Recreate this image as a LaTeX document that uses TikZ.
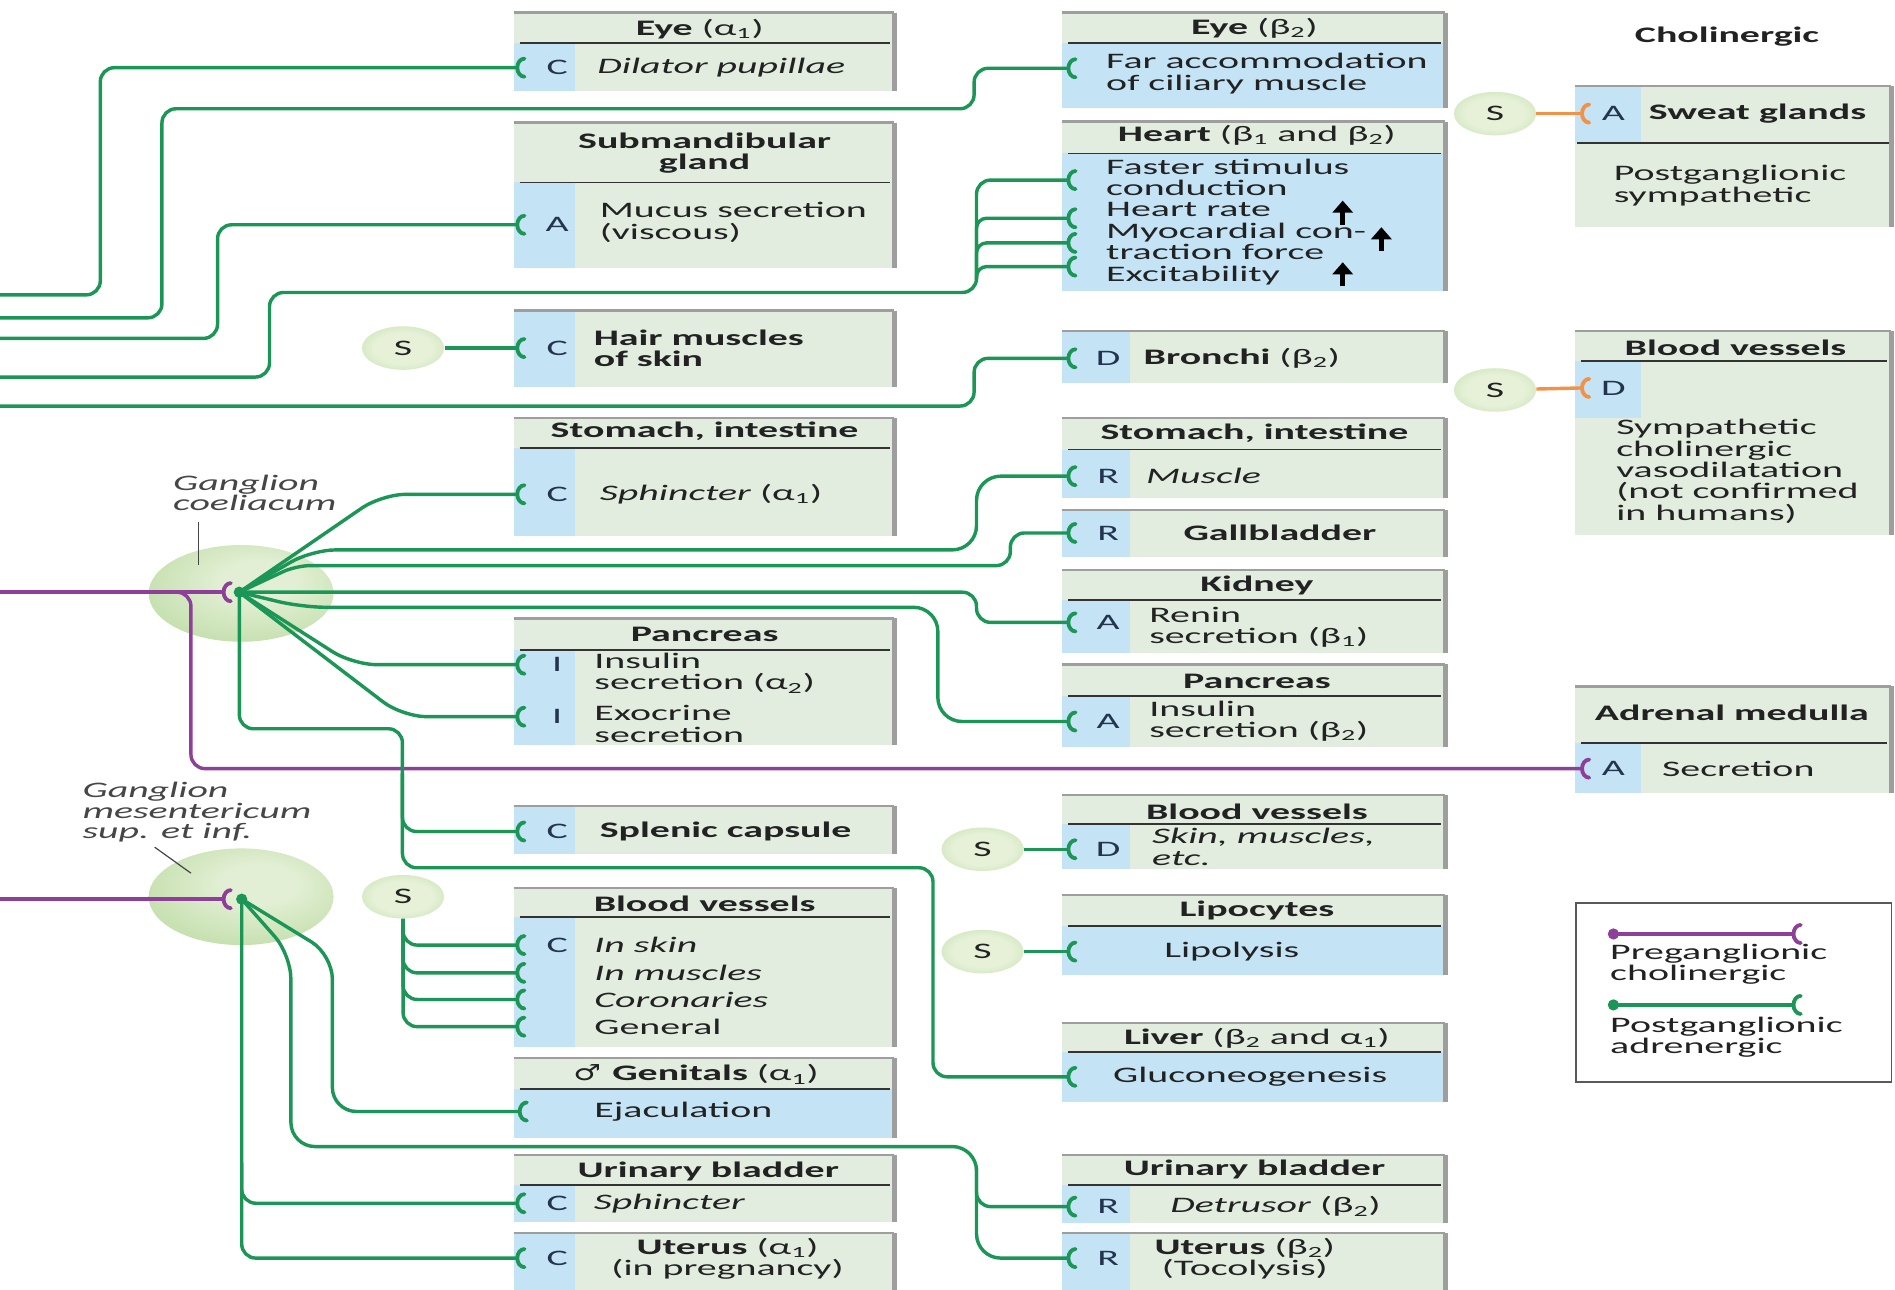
\documentclass[tikz,border=0pt]{standalone}
\usepackage{fontspec}
\setmainfont{Carlito}[FakeStretch=1.8]
\newfontfamily\signfont{DejaVu Sans}[FakeStretch=1.4]
\usetikzlibrary{shapes.geometric,arrows.meta}

\definecolor{nervegreen}{RGB}{28,150,86}
\definecolor{preganglionic}{RGB}{142,64,152}
\definecolor{cholinergic}{RGB}{242,146,70}
\definecolor{organbg}{RGB}{226,237,224}
\definecolor{receptorbg}{RGB}{196,228,246}
\definecolor{rimgray}{RGB}{158,158,158}
\definecolor{ink}{RGB}{34,34,34}
\definecolor{tagink}{RGB}{36,52,80}
\definecolor{labelink}{RGB}{70,70,70}
\definecolor{gcore}{RGB}{226,239,212}
\definecolor{gmid}{RGB}{192,221,168}
\definecolor{gedge}{RGB}{158,199,128}
\definecolor{score}{RGB}{230,241,216}
\definecolor{smid}{RGB}{196,223,172}
\definecolor{sedge}{RGB}{160,200,130}

\pgfdeclareradialshading{ganglionshade}{\pgfpoint{6bp}{8bp}}{color(0bp)=(gcore); color(10bp)=(gcore); color(34bp)=(gmid); color(46bp)=(gedge); color(60bp)=(gedge)}
\pgfdeclareradialshading{somashade}{\pgfpoint{0bp}{0bp}}{color(0bp)=(score); color(18bp)=(score); color(36bp)=(smid); color(46bp)=(sedge); color(60bp)=(sedge)}

% organ panels: background, receptor strip, grey rim, header rule
\newcommand\orgpanel[4]{\fill[organbg] (#1,#2) rectangle (#3,#4);}
\newcommand\orgstrip[4]{\fill[receptorbg] (#1,#2) rectangle (#3,#4);}
\newcommand\orgrim[4]{\draw[rimtop] (#1,#2) -- (#3,#2); \draw[rimside] (#3,#2) -- (#3,#4);}
\newcommand\orgsep[3]{\draw[sepline] (#1,#3) -- (#2,#3);}
% synaptic ending: a small arc opening to the right
\newcommand\synapse[2]{\draw[#1, synstroke] (#2) ++(6,-7.5) arc[start angle=90, end angle=270, x radius=3.6pt, y radius=4.5pt];}

\begin{document}
\begin{tikzpicture}[x=0.6pt, y=-0.6pt,
  nerve/.style={draw=nervegreen, line width=1.7pt, rounded corners=7pt},
  fan/.style={nerve, rounded corners=12pt},
  branch/.style={nerve, rounded corners=5pt},
  pre/.style={draw=preganglionic, line width=1.7pt, rounded corners=7pt},
  chol/.style={draw=cholinergic, line width=1.7pt},
  synstroke/.style={line width=1.9pt, line cap=round},
  rimtop/.style={draw=rimgray, line width=1.2pt},
  rimside/.style={draw=rimgray, line width=2.2pt},
  sepline/.style={draw=black!80, line width=0.9pt},
  txt/.style={inner sep=0pt, text=ink, font=\fontsize{11}{10.6}\selectfont, align=left, anchor=west},
  hdr/.style={inner sep=0pt, text=ink, font=\fontsize{11}{10.6}\selectfont, align=center},
  rtag/.style={inner sep=0pt, text=tagink, font=\fontsize{11}{10.6}\selectfont},
  lbl/.style={inner sep=0pt, text=labelink, font=\fontsize{11}{10}\selectfont\itshape, align=left, anchor=west},
  soma/.style={ellipse, inner sep=0pt, minimum width=40.8pt, minimum height=21.6pt, shade, shading=somashade, text=ink, font=\fontsize{11}{11}\selectfont},
  leader/.style={draw=labelink, line width=0.6pt},
  upmark/.style={draw=black, line width=2.4pt, -{Triangle[length=6pt, width=10pt]}},
]
\useasboundingbox (0,0) rectangle (1568,1067);
\fill[white] (0,0) rectangle (1568,1067);

% ---------- ganglia ----------
\shade[shading=ganglionshade] (199.5,491) ellipse [x radius=45.9pt, y radius=24pt];
\shade[shading=ganglionshade] (199.5,742) ellipse [x radius=45.9pt, y radius=24pt];
\draw[leader] (164.5,432) -- (164.5,467.5);
\draw[leader] (128,701) -- (158,722.5);
\node[lbl] (labCoel) at (143,408) {Ganglion\\coeliacum};
\node[lbl] (labMes) at (68,672) {Ganglion\\mesentericum\\sup. et inf.};

% ---------- organ panels, left column ----------
\orgpanel{425}{10.5}{740}{75}\orgstrip{425}{35.5}{476}{75}\orgrim{425}{10.5}{740}{75}\orgsep{430}{736}{35.5}
\orgpanel{425}{101.5}{740}{222}\orgstrip{425}{151}{476}{222}\orgrim{425}{101.5}{740}{222}\orgsep{430}{736}{151}
\orgpanel{425}{257}{740}{320}\orgstrip{425}{257}{476}{320}\orgrim{425}{257}{740}{320}
\orgpanel{425}{346}{740}{443.5}\orgstrip{425}{371}{476}{443.5}\orgrim{425}{346}{740}{443.5}\orgsep{430}{736}{371}
\orgpanel{425}{511.6}{740}{616.5}\orgstrip{425}{537.5}{476}{616.5}\orgrim{425}{511.6}{740}{616.5}\orgsep{430}{736}{537.5}
\orgpanel{425}{667}{740}{707}\orgstrip{425}{667}{476}{707}\orgrim{425}{667}{740}{707}
\orgpanel{425}{735}{740}{866}\orgstrip{425}{759}{476}{866}\orgrim{425}{735}{740}{866}\orgsep{430}{736}{759}
\orgpanel{425}{875.6}{740}{941.8}\orgstrip{425}{901.3}{740}{941.8}\orgrim{425}{875.6}{740}{941.8}\orgsep{430}{736}{901.3}
\orgpanel{425}{955.6}{740}{1010.8}\orgstrip{425}{980.4}{476}{1010.8}\orgrim{425}{955.6}{740}{1010.8}\orgsep{430}{736}{980.4}
\orgpanel{425}{1020.4}{740}{1075}\orgstrip{425}{1020.4}{476}{1075}\orgrim{425}{1020.4}{740}{1075}

% ---------- organ panels, middle column ----------
\orgpanel{879}{10.5}{1196}{89.6}\orgstrip{879}{35.3}{1196}{89.6}\orgrim{879}{10.5}{1196}{89.6}\orgsep{884}{1192}{35.3}
\orgpanel{879}{100.7}{1196}{241}\orgstrip{879}{127}{1196}{241}\orgrim{879}{100.7}{1196}{241}\orgsep{884}{1192}{127}
\orgpanel{879}{274}{1196}{317}\orgstrip{879}{274}{935}{317}\orgrim{879}{274}{1196}{317}
\orgpanel{879}{346}{1196}{412}\orgstrip{879}{372}{935}{412}\orgrim{879}{346}{1196}{412}\orgsep{884}{1192}{372}
\orgpanel{879}{422}{1196}{460.6}\orgstrip{879}{422}{935}{460.6}\orgrim{879}{422}{1196}{460.6}
\orgpanel{879}{471.6}{1196}{540.6}\orgstrip{879}{496.5}{935}{540.6}\orgrim{879}{471.6}{1196}{540.6}\orgsep{884}{1192}{496.5}
\orgpanel{879}{549.7}{1196}{617.8}\orgstrip{879}{575.6}{935}{617.8}\orgrim{879}{549.7}{1196}{617.8}\orgsep{884}{1192}{575.6}
\orgpanel{879}{657.8}{1196}{719.3}\orgstrip{879}{682}{935}{719.3}\orgrim{879}{657.8}{1196}{719.3}\orgsep{884}{1192}{682}
\orgpanel{879}{740.5}{1196}{806.7}\orgstrip{879}{766}{1196}{806.7}\orgrim{879}{740.5}{1196}{806.7}\orgsep{884}{1192}{766}
\orgpanel{879}{846.7}{1196}{911.5}\orgstrip{879}{870.7}{1196}{911.5}\orgrim{879}{846.7}{1196}{911.5}\orgsep{884}{1192}{870.7}
\orgpanel{879}{955.6}{1196}{1012}\orgstrip{879}{980.4}{935}{1012}\orgrim{879}{955.6}{1196}{1012}\orgsep{884}{1192}{980.4}
\orgpanel{879}{1020.4}{1196}{1075}\orgstrip{879}{1020.4}{935}{1075}\orgrim{879}{1020.4}{1196}{1075}

% ---------- organ panels, cholinergic column ----------
\orgpanel{1303}{71}{1565}{187.5}\orgstrip{1303}{71}{1358}{118.6}\orgrim{1303}{71}{1565}{187.5}\orgsep{1305}{1563}{118.6}
\orgpanel{1303}{274}{1565}{442.7}\orgstrip{1303}{299}{1358}{346}\orgrim{1303}{274}{1565}{442.7}\orgsep{1308}{1561}{299}
\orgpanel{1303}{568}{1565}{656.4}\orgstrip{1303}{615}{1358}{656.4}\orgrim{1303}{568}{1565}{656.4}\orgsep{1308}{1561}{615}

% ---------- legend frame ----------
\draw[draw=black!65, line width=0.9pt] (1304,747.4) rectangle (1565,895);

% ---------- synapse positions ----------
\coordinate (sEyeA) at (428,56);
\coordinate (sSubm) at (428,186);
\coordinate (sHair) at (428,288);
\coordinate (sSphA) at (428,409);
\coordinate (sInsA) at (428,550);
\coordinate (sExoA) at (428,593);
\coordinate (sSplen) at (428,688);
\coordinate (sBv1) at (428,782);
\coordinate (sBv2) at (428,805);
\coordinate (sBv3) at (428,827);
\coordinate (sBv4) at (428,849.5);
\coordinate (sGen) at (430,919.7);
\coordinate (sUbA) at (428,995.6);
\coordinate (sUtA) at (428,1041);
\coordinate (sEyeB) at (884,56.5);
\coordinate (sH1) at (884,149);
\coordinate (sH2) at (884,180.6);
\coordinate (sH3) at (884,201);
\coordinate (sH4) at (884,220.6);
\coordinate (sBron) at (884,296.5);
\coordinate (sMusc) at (884,394);
\coordinate (sGall) at (884,441);
\coordinate (sKid) at (884,515);
\coordinate (sPanB) at (884,597);
\coordinate (sBvB) at (884,702.7);
\coordinate (sLipo) at (884,787.4);
\coordinate (sLiver) at (884,891);
\coordinate (sDetr) at (884,998.4);
\coordinate (sUtB) at (884,1041);
\coordinate (sSweat) at (1309,94);
\coordinate (sBvC) at (1309,321);
\coordinate (sAdr) at (1309,636);
% fibres entering from the spinal cord side
\coordinate (in1) at (0,244);
\coordinate (in2) at (0,263);
\coordinate (in3) at (0,280);
\coordinate (in4) at (0,312);
\coordinate (in5) at (0,336);
\coordinate (inC) at (0,490);
\coordinate (inM) at (0,744);
% ganglionic relay points
\coordinate (gcIn) at (185,490);
\coordinate (gcOut) at (198,490);
\coordinate (gmIn) at (185,744);
\coordinate (gmOut) at (200,744);
% branch points
\coordinate (hJoin) at (808,231);
\coordinate (spJoin) at (333,640);
\coordinate (ubJoin) at (808,966);
\coordinate (uaJoin) at (200,962);

% ---------- sympathetic somata ----------
\node[soma] (soHair) at (333.5,288) {S};
\node[soma] (soSweat) at (1237,94) {S};
\node[soma] (soBvC) at (1237,322.7) {S};
\node[soma] (soBvB) at (813,702.7) {S};
\node[soma] (soLipo) at (813,787.4) {S};
\node[soma] (soBvA) at (333.5,742) {S};

% ---------- preganglionic fibres ----------
\draw[pre] (inC) -- (gcIn);
\draw[pre] (inC) -- (158,490) -- (158,636) -- (sAdr);
\draw[pre] (inM) -- (gmIn);

% ---------- postganglionic fibres from the upper trunk ----------
\draw[nerve] (in1) -- (83,244) -- (83,56) -- (sEyeA);
\draw[nerve] (in2) -- (134,263) -- (134,90) -- (806,90) -- (806,56.5) -- (sEyeB);
\draw[nerve] (in3) -- (180,280) -- (180,186) -- (sSubm);
\draw[nerve] (in4) -- (223,312) -- (223,242) -- (808,242) -- (808,149) -- (sH1);
\draw[branch] (hJoin) |- (sH2);
\draw[branch] (hJoin) |- (sH3);
\draw[branch] (hJoin) |- (sH4);
\draw[nerve] (in5) -- (806,336) -- (806,296.5) -- (sBron);

% ---------- fibres from the coeliac ganglion ----------
\draw[fan] (gcOut) -- (316,409) -- (sSphA);
\draw[fan] (gcOut) -- (258,455) -- (808,455) -- (808,394) -- (sMusc);
\draw[nerve] (gcOut) -- (245,468) -- (836,468) -- (836,441) -- (sGall);
\draw[nerve] (gcOut) -- (808,490) -- (808,515) -- (sKid);
\draw[fan] (gcOut) -- (250,502.5) -- (776,502.5) -- (776,597) -- (sPanB);
\draw[fan] (gcOut) -- (292,550) -- (sInsA);
\draw[fan] (gcOut) -- (333,593) -- (sExoA);
\draw[nerve] (gcOut) -- (198,603) -- (333,603) -- (333,718) -- (772,718) -- (772,891) -- (sLiver);
\draw[nerve] (spJoin) |- (sSplen);

% ---------- fibres from the mesenteric ganglia ----------
\draw[fan] (gmOut) -- (275,790) -- (275,919.7) -- (sGen);
\draw[fan] (gmOut) -- (240.7,790) -- (240.7,948.7) -- (808,948.7) -- (808,1041) -- (sUtB);
\draw[nerve] (ubJoin) |- (sDetr);
\draw[nerve] (gmOut) -- (200,1041) -- (sUtA);
\draw[nerve] (uaJoin) |- (sUbA);

% ---------- fibres from single somata ----------
\draw[nerve] (soHair) -- (sHair);
\draw[nerve] (soBvB) -- (sBvB);
\draw[nerve] (soLipo) -- (sLipo);
\draw[nerve] (soBvA.south) |- (sBv1);
\draw[nerve] (soBvA.south) |- (sBv2);
\draw[nerve] (soBvA.south) |- (sBv3);
\draw[nerve] (soBvA.south) |- (sBv4);
\draw[chol] (soSweat) -- (sSweat);
\draw[chol] (soBvC) -- (sBvC);

% ---------- synaptic endings ----------
\foreach \s in {sEyeA,sSubm,sHair,sSphA,sInsA,sExoA,sSplen,sBv1,sBv2,sBv3,sBv4,sGen,sUbA,sUtA,
                sEyeB,sH1,sH2,sH3,sH4,sBron,sMusc,sGall,sKid,sPanB,sBvB,sLipo,sLiver,sDetr,sUtB}
  {\synapse{nervegreen}{\s}}
\synapse{cholinergic}{sSweat}
\synapse{cholinergic}{sBvC}
\synapse{preganglionic}{sAdr}
\synapse{preganglionic}{gcIn}
\synapse{preganglionic}{gmIn}
\fill[nervegreen] (gcOut) circle (2.8pt);
\fill[nervegreen] (gmOut) circle (2.8pt);

% ---------- left column texts ----------
\node[hdr] (hEyeA) at (579,24) {\textbf{Eye} (α\textsubscript{1})};
\node[rtag] (gEyeA) at (461,56) {C};
\node[txt] (tEyeA) at (494,56) {\textit{Dilator pupillae}};
\node[hdr] (hSubm) at (583,126.5) {\textbf{Submandibular}\\\textbf{gland}};
\node[rtag] (gSubm) at (461,186) {A};
\node[txt] (tSubm) at (496,184) {Mucus secretion\\(viscous)};
\node[rtag] (gHair) at (461,288) {C};
\node[txt] (tHair) at (491,288) {\textbf{Hair muscles}\\\textbf{of skin}};
\node[hdr] (hStoA) at (583,357) {\textbf{Stomach, intestine}};
\node[rtag] (gSphA) at (461,409) {C};
\node[txt] (tSphA) at (496,409) {\textit{Sphincter} (α\textsubscript{1})};
\node[hdr] (hPanA) at (583,525) {\textbf{Pancreas}};
\node[rtag] (gInsA) at (461,550) {I};
\node[txt] (tInsA) at (491.5,557) {Insulin\\secretion (α\textsubscript{2})};
\node[rtag] (gExoA) at (461,593) {I};
\node[txt] (tExoA) at (491.5,599) {Exocrine\\secretion};
\node[rtag] (gSplen) at (461,688) {C};
\node[txt] (tSplen) at (496,688) {\textbf{Splenic capsule}};
\node[hdr] (hBvA) at (583,748) {\textbf{Blood vessels}};
\node[rtag] (gBvA) at (461,782) {C};
\node[txt] (tBv1) at (491.5,782) {\textit{In skin}};
\node[txt] (tBv2) at (491.5,805) {\textit{In muscles}};
\node[txt] (tBv3) at (491.5,827) {\textit{Coronaries}};
\node[txt] (tBv4) at (491.5,849.5) {General};
\node[hdr] (hGen) at (576,889) {{\signfont ♂}\enspace\textbf{Genitals} (α\textsubscript{1})};
\node[txt] (tGen) at (491.5,919.7) {Ejaculation};
\node[hdr] (hUbA) at (586,969.4) {\textbf{Urinary bladder}};
\node[rtag] (gUbA) at (461,995.6) {C};
\node[txt] (tUbA) at (491,995.6) {\textit{Sphincter}};
\node[rtag] (gUtA) at (461,1041) {C};
\node[hdr] (hUtA) at (602,1041.5) {\textbf{Uterus} (α\textsubscript{1})\\(in pregnancy)};

% ---------- middle column texts ----------
\node[hdr] (hEyeB) at (1038,23.4) {\textbf{Eye} (β\textsubscript{2})};
\node[txt] (tEyeB) at (915,61) {Far accommodation\\of ciliary muscle};
\node[hdr] (hHeart) at (1040,112) {\textbf{Heart} (β\textsubscript{1} and β\textsubscript{2})};
\node[txt] (tHeart) at (915,183.5) {Faster stimulus\\conduction\\Heart rate\\Myocardial con-\\traction force\\Excitability};
\draw[upmark] (1111,186) -- (1111,166);
\draw[upmark] (1143,208) -- (1143,188);
\draw[upmark] (1111,237) -- (1111,217);
\node[rtag] (gBron) at (917,296.5) {D};
\node[txt] (tBron) at (946,296.5) {\textbf{Bronchi} (β\textsubscript{2})};
\node[hdr] (hStoB) at (1038,358.6) {\textbf{Stomach, intestine}};
\node[rtag] (gMusc) at (917,394) {R};
\node[txt] (tMusc) at (948,394) {\textit{Muscle}};
\node[rtag] (gGall) at (917,441) {R};
\node[hdr] (tGall) at (1059,441) {\textbf{Gallbladder}};
\node[hdr] (hKid) at (1040,484.6) {\textbf{Kidney}};
\node[rtag] (gKid) at (917,515) {A};
\node[txt] (tKid) at (950.6,519) {Renin\\secretion (β\textsubscript{1})};
\node[hdr] (hPanB) at (1040,564) {\textbf{Pancreas}};
\node[rtag] (gPanB) at (917,597) {A};
\node[txt] (tPanB) at (950.6,596.5) {Insulin\\secretion (β\textsubscript{2})};
\node[hdr] (hBvB) at (1040,671.5) {\textbf{Blood vessels}};
\node[rtag] (gBvB) at (917,702.7) {D};
\node[txt] (tBvB) at (953,700.7) {\textit{Skin, muscles,}\\\textit{etc.}};
\node[hdr] (hLipo) at (1040,753) {\textbf{Lipocytes}};
\node[txt] (tLipo) at (963,787) {Lipolysis};
\node[hdr] (hLiver) at (1040,859) {\textbf{Liver} (β\textsubscript{2} and α\textsubscript{1})};
\node[txt] (tLiver) at (920.7,891) {Gluconeogenesis};
\node[hdr] (hUbB) at (1038,967.5) {\textbf{Urinary bladder}};
\node[rtag] (gDetr) at (917,998.4) {R};
\node[txt] (tDetr) at (968,998.4) {\textit{Detrusor} (β\textsubscript{2})};
\node[rtag] (gUtB) at (917,1041) {R};
\node[hdr] (hUtB) at (1030,1041.5) {\textbf{Uterus} (β\textsubscript{2})\\(Tocolysis)};

% ---------- cholinergic column texts ----------
\node[hdr] (hChol) at (1429,30) {\textbf{Cholinergic}};
\node[rtag] (gSweat) at (1335,94) {A};
\node[txt] (tSweat) at (1364,94) {\textbf{Sweat glands}};
\node[txt] (tSweatB) at (1335,153.5) {Postganglionic\\sympathetic};
\node[hdr] (hBvC) at (1436,288) {\textbf{Blood vessels}};
\node[rtag] (gBvC) at (1335,321) {D};
\node[txt] (tBvC) at (1337,390) {Sympathetic\\cholinergic\\vasodilatation\\(not confirmed\\in humans)};
\node[hdr] (hAdr) at (1433,590) {\textbf{Adrenal medulla}};
\node[rtag] (gAdr) at (1335,636) {A};
\node[txt] (tAdr) at (1375,636) {Secretion};

% ---------- legend ----------
\coordinate (lgPreA) at (1335,772.8);
\coordinate (lgPreB) at (1484,772.8);
\coordinate (lgPostA) at (1335,831.5);
\coordinate (lgPostB) at (1484,831.5);
\draw[pre] (lgPreA) -- (lgPreB);
\fill[preganglionic] (lgPreA) circle (2.8pt);
\synapse{preganglionic}{lgPreB}
\draw[nerve] (lgPostA) -- (lgPostB);
\fill[nervegreen] (lgPostA) circle (2.8pt);
\synapse{nervegreen}{lgPostB}
\node[txt] (tLgPre) at (1332,798) {Preganglionic\\cholinergic};
\node[txt] (tLgPost) at (1332,858) {Postganglionic\\adrenergic};
\end{tikzpicture}
\end{document}
